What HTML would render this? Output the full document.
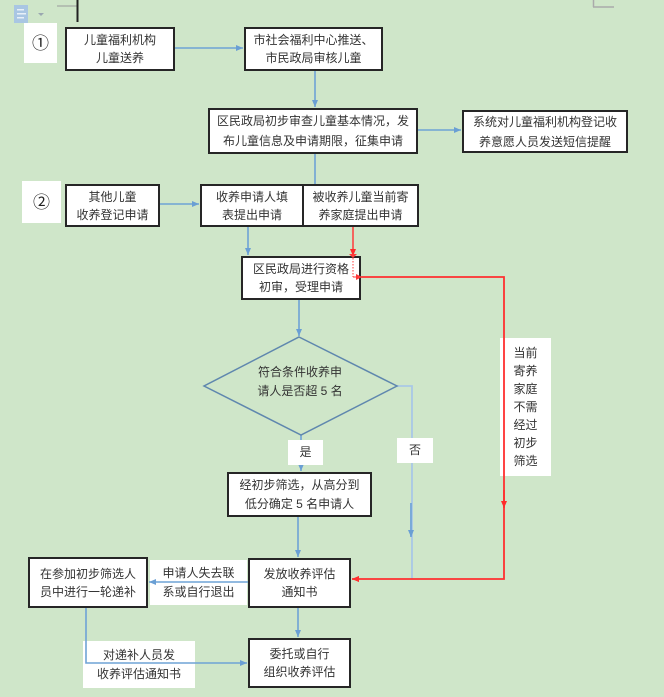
<!DOCTYPE html>
<html><head><meta charset="utf-8">
<style>
html,body{margin:0;padding:0;}
body{width:664px;height:697px;background:#cfe6c9;position:relative;overflow:hidden;
font-family:"Liberation Sans","Noto Sans CJK SC",sans-serif;font-size:12px;color:#333;}
.b{position:absolute;box-sizing:border-box;border:2px solid #262626;background:#fff;
display:flex;align-items:center;justify-content:center;text-align:center;line-height:19px;white-space:nowrap;}
.l{position:absolute;background:#fff;display:flex;align-items:center;justify-content:center;text-align:center;line-height:19px;white-space:nowrap;}
svg{position:absolute;left:0;top:0;}
</style></head><body>

<!-- top-left decorations -->
<svg width="664" height="697" style="z-index:0">
  <rect x="14" y="5" width="14" height="18" fill="#a9c6e3"/>
  <rect x="17" y="9" width="7" height="1.5" fill="#e8f0f8"/>
  <rect x="17" y="13" width="9" height="1.5" fill="#e8f0f8"/>
  <rect x="17" y="17" width="7" height="1.5" fill="#e8f0f8"/>
  <polygon points="38,13 44,13 41,16" fill="#9aa7b0"/>
  <line x1="57" y1="6" x2="77" y2="6" stroke="#9a9a9a" stroke-width="1"/>
  <line x1="77.5" y1="0" x2="77.5" y2="22" stroke="#222" stroke-width="2"/>
  <line x1="593.5" y1="0" x2="593.5" y2="7" stroke="#aaa" stroke-width="1.5"/>
  <line x1="593" y1="7" x2="614" y2="7" stroke="#aaa" stroke-width="1.5"/>
</svg>

<!-- white labels under lines -->
<div class="l" style="left:24px;top:23px;width:33px;height:40px;font-size:17px;color:#222;">①</div>
<div class="l" style="left:22px;top:181px;width:39px;height:42px;font-size:17px;color:#222;">②</div>
<div class="l" style="left:150px;top:560px;width:97px;height:45px;">申请人失去联<br>系或自行退出</div>
<div class="l" style="left:83px;top:641px;width:112px;height:47px;">对递补人员发<br>收养评估通知书</div>
<div class="l" style="left:500px;top:338px;width:51px;height:138px;line-height:18px;">当前<br>寄养<br>家庭<br>不需<br>经过<br>初步<br>筛选</div>

<svg width="664" height="697" style="z-index:1">
  <defs>
    <marker id="ab" markerWidth="8" markerHeight="8" refX="7" refY="4" orient="auto" markerUnits="userSpaceOnUse">
      <path d="M0,1 L7,4 L0,7 z" fill="#6a9fd4"/>
    </marker>
    <marker id="ar" markerWidth="8" markerHeight="8" refX="7" refY="4" orient="auto" markerUnits="userSpaceOnUse">
      <path d="M0,1 L7,4 L0,7 z" fill="#ff2a2a"/>
    </marker>
  </defs>
  <g stroke="#6fa3d6" stroke-width="1.6" fill="none">
    <line x1="175" y1="48" x2="243" y2="48" marker-end="url(#ab)"/>
    <line x1="315" y1="71" x2="315" y2="107" marker-end="url(#ab)"/>
    <line x1="418" y1="130" x2="461" y2="130" marker-end="url(#ab)"/>
    <line x1="315" y1="154" x2="315" y2="185"/>
    <line x1="160" y1="204" x2="199" y2="204" marker-end="url(#ab)"/>
    <line x1="248" y1="227" x2="248" y2="255" marker-end="url(#ab)"/>
    <line x1="299" y1="300" x2="299" y2="336" marker-end="url(#ab)"/>
    <line x1="301" y1="435" x2="301" y2="471" marker-end="url(#ab)"/>
    <line x1="298" y1="517" x2="298" y2="557" marker-end="url(#ab)"/>
    <line x1="248" y1="582" x2="149" y2="582" marker-end="url(#ab)"/>
    <line x1="298" y1="608" x2="298" y2="637" marker-end="url(#ab)"/>
    <polyline points="86,608 86,663 247,663" marker-end="url(#ab)"/>
  </g>
  <polyline points="397,386 412,386 412,579" stroke="#a9c8e6" stroke-width="1.8" fill="none"/>
  <line x1="411" y1="503" x2="411" y2="537" stroke="#7aaad8" stroke-width="2" marker-end="url(#ab)"/>
  <polygon points="299,337 397,386 301,435 204,386" fill="none" stroke="#5f87ae" stroke-width="1.5"/>
  <!-- red -->
  <line x1="353" y1="227" x2="353" y2="256" stroke="#ff3a3a" stroke-width="1.5" marker-end="url(#ar)"/>
  <line x1="353" y1="258" x2="353" y2="277" stroke="#ff3a3a" stroke-width="1" stroke-dasharray="1.5,1.5"/>
  <line x1="353" y1="277" x2="361" y2="277" stroke="#ff3a3a" stroke-width="1" stroke-dasharray="1.5,1.5" marker-end="url(#ar)"/>
  <polyline points="361,277 504,277 504,579 352,579" stroke="#ff3030" stroke-width="1.8" fill="none" marker-end="url(#ar)"/>
  <line x1="504" y1="490" x2="504" y2="508" stroke="#ff3030" stroke-width="1.8" marker-end="url(#ar)"/>
</svg>

<!-- diamond text -->
<div style="position:absolute;left:230px;top:363px;width:140px;text-align:center;line-height:19px;z-index:2;">符合条件收养申<br>请人是否超 5 名</div>

<!-- labels above lines -->
<div class="l" style="left:288px;top:440px;width:35px;height:25px;z-index:2;">是</div>
<div class="l" style="left:397px;top:438px;width:36px;height:25px;z-index:2;">否</div>

<!-- boxes -->
<div class="b" style="left:65px;top:27px;width:110px;height:44px;line-height:18px;z-index:3;">儿童福利机构<br>儿童送养</div>
<div class="b" style="left:244px;top:27px;width:139px;height:44px;line-height:18px;z-index:3;">市社会福利中心推送、<br>市民政局审核儿童</div>
<div class="b" style="left:208px;top:108px;width:210px;height:46px;line-height:20px;z-index:3;">区民政局初步审查儿童基本情况，发<br>布儿童信息及申请期限，征集申请</div>
<div class="b" style="left:462px;top:110px;width:166px;height:43px;line-height:20px;z-index:3;">系统对儿童福利机构登记收<br>养意愿人员发送短信提醒</div>
<div class="b" style="left:65px;top:184px;width:95px;height:43px;line-height:18px;z-index:3;">其他儿童<br>收养登记申请</div>
<div class="b" style="left:200px;top:184px;width:104px;height:43px;line-height:18px;z-index:3;">收养申请人填<br>表提出申请</div>
<div class="b" style="left:302px;top:184px;width:117px;height:43px;line-height:18px;z-index:3;">被收养儿童当前寄<br>养家庭提出申请</div>
<div class="b" style="left:241px;top:256px;width:120px;height:44px;line-height:18px;z-index:3;background:#fff;">区民政局进行资格<br>初审，受理申请</div>
<div class="b" style="left:227px;top:472px;width:145px;height:45px;z-index:3;">经初步筛选，从高分到<br>低分确定 5 名申请人</div>
<div class="b" style="left:28px;top:557px;width:120px;height:51px;line-height:18px;z-index:3;">在参加初步筛选人<br>员中进行一轮递补</div>
<div class="b" style="left:248px;top:558px;width:103px;height:50px;line-height:18px;z-index:3;">发放收养评估<br>通知书</div>
<div class="b" style="left:248px;top:638px;width:103px;height:50px;line-height:18px;z-index:3;">委托或自行<br>组织收养评估</div>

<!-- red dotted overlay inside box 4 -->
<svg width="664" height="697" style="z-index:4;pointer-events:none">
  <defs>
    <marker id="ar2" markerWidth="8" markerHeight="8" refX="6" refY="3" orient="auto" markerUnits="userSpaceOnUse">
      <path d="M0,0 L6,3 L0,6 z" fill="#ff3a3a"/>
    </marker>
  </defs>
  <line x1="353" y1="258" x2="353" y2="277" stroke="#ff3a3a" stroke-width="1" stroke-dasharray="1.5,1.5"/>
  <line x1="353" y1="277" x2="362" y2="277" stroke="#ff3a3a" stroke-width="1" marker-end="url(#ar2)"/>
  <path d="M349,254 L353,258 L357,254 z" fill="#ff3a3a"/>
  <path d="M352,579 L359,576 L359,582 z" fill="#ff3030"/>
</svg>
</body></html>
